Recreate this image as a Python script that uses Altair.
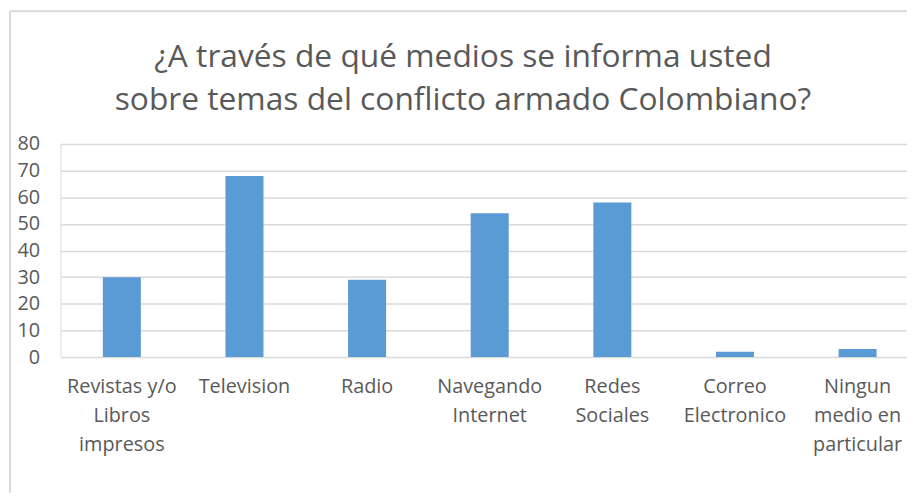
import altair as alt
import pandas as pd

categories = [
    "Revistas y/o|Libros|impresos",
    "Television",
    "Radio",
    "Navegando|Internet",
    "Redes|Sociales",
    "Correo|Electronico",
    "Ningun|medio en|particular",
]
values = [30, 68, 29, 54, 58, 2, 3]
y_ticks = [0, 10, 20, 30, 40, 50, 60, 70, 80]
title_lines = [
    "¿A través de qué medios se informa usted",
    "sobre temas del conflicto armado Colombiano?",
]

df = pd.DataFrame({"medio": categories, "valor": values})

W, H = 854, 215
BAND_RANGE = 866
PAD_L, PAD_T = 53, 135
PAD_R, PAD_B = 0, 137

label_font = "Open Sans"
gray = "#595959"

bars = alt.Chart(df).mark_bar(color="#5b9bd5").encode(
    x=alt.X(
        "medio:N",
        sort=categories,
        title=None,
        scale=alt.Scale(paddingInner=0.69, paddingOuter=0.345, range=[0, BAND_RANGE]),
        axis=alt.Axis(
            labelAngle=0,
            labelExpr="split(datum.label, '|')",
            labelFont=label_font,
            labelFontSize=20,
            labelColor=gray,
            labelLineHeight=29,
            labelBaseline="top",
            labelPadding=20,
            labelLimit=0,
            ticks=False,
            domain=False,
            grid=False,
        ),
    ),
    y=alt.Y(
        "valor:Q",
        title=None,
        scale=alt.Scale(domain=[0, 80]),
        axis=alt.Axis(
            values=y_ticks,
            labelFont=label_font,
            labelFontSize=20,
            labelColor=gray,
            labelPadding=21,
            ticks=False,
            domain=False,
            gridColor="#d9d9d9",
            gridWidth=1.5,
        ),
    ),
)

one = pd.DataFrame({"k": [0]})
left_border = alt.Chart(one).mark_rule(color="#d9d9d9", strokeWidth=2).encode(
    x=alt.value(-51), y=alt.value(-134), y2=alt.value(H + PAD_B)
)
top_border = alt.Chart(one).mark_rule(color="#d9d9d9", strokeWidth=2).encode(
    x=alt.value(-51), x2=alt.value(W + PAD_R), y=alt.value(-134)
)
title_text = alt.Chart(one).mark_text(
    font="Open Sans",
    fontSize=32,
    color=gray,
    align="center",
    baseline="alphabetic",
    lineHeight=44,
).encode(
    x=alt.value(406),
    y=alt.value(-78),
    text=alt.value(title_lines),
)

chart = (
    alt.layer(bars, left_border, top_border, title_text)
    .properties(
        width=W,
        height=H,
        autosize=alt.AutoSizeParams(type="none"),
        padding={"left": PAD_L, "top": PAD_T, "right": PAD_R, "bottom": PAD_B},
    )
    .configure_view(stroke=None)
    .configure(background="white")
)

chart.save("out.html", embed_options={"renderer": "svg", "actions": False})
